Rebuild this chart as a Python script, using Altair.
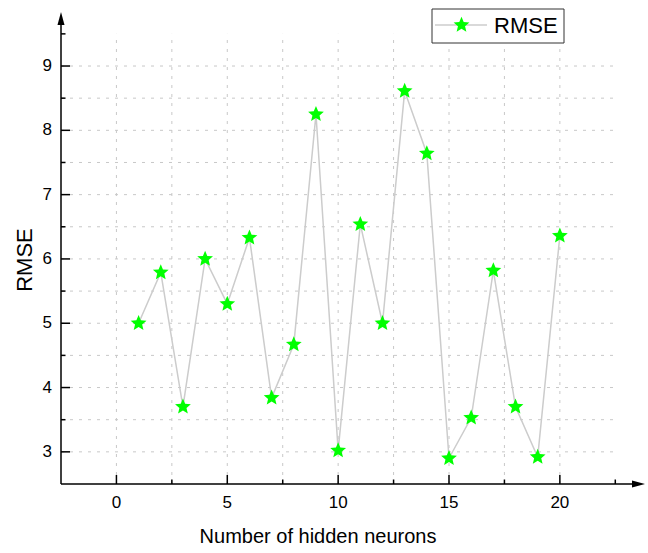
import altair as alt
import pandas as pd

# ---- data ----
neurons = list(range(1, 21))
rmse = [5.0, 5.79, 3.70, 6.00, 5.30, 6.33, 3.84, 4.67, 8.25, 3.02,
        6.54, 5.00, 8.61, 7.64, 2.90, 3.53, 5.82, 3.70, 2.92, 6.36]
x_major = [0, 5, 10, 15, 20]
x_minor = [2.5, 7.5, 12.5, 17.5, 22.5]
y_major = [3, 4, 5, 6, 7, 8, 9]
y_minor = [3.5, 4.5, 5.5, 6.5, 7.5, 8.5, 9.5]
h_grid = [3, 3.5, 4, 4.5, 5, 5.5, 6, 6.5, 7, 7.5, 8, 8.5, 9]
v_grid = [0, 2.5, 5, 7.5, 10, 12.5, 15, 17.5, 20]
x_title = "Number of hidden neurons"
y_title = "RMSE"
series_name = "RMSE"

F = "Liberation Sans"
W, H = 584, 472
X_DOM = [-2.5, 23.84]
Y_DOM = [2.5, 9.84]

STAR = ("M0,-1L0.2645,-0.3641L0.9511,-0.309L0.428,0.1391L0.5878,0.809L0,0.45"
        "L-0.5878,0.809L-0.428,0.1391L-0.9511,-0.309L-0.2645,-0.3641Z")
STAR_SIZE = 275

xs = alt.Scale(domain=X_DOM, nice=False, zero=False)
ys = alt.Scale(domain=Y_DOM, nice=False, zero=False)

def X(f):
    return alt.X(f, scale=xs, axis=None)

def Y(f):
    return alt.Y(f, scale=ys, axis=None)

df = pd.DataFrame({"n": neurons, "rmse": rmse})
hg = pd.DataFrame({"gy": h_grid, "x0": X_DOM[0], "x1": 22.5})
vg = pd.DataFrame({"gx": v_grid, "y0": Y_DOM[0], "y1": 9.5})
one = pd.DataFrame({"a": [0]})

grid_h = alt.Chart(hg).mark_rule(color="#c8c8c8", strokeWidth=1, strokeDash=[3, 6]).encode(
    x=X("x0:Q"), x2="x1:Q", y=Y("gy:Q"))
grid_v = alt.Chart(vg).mark_rule(color="#c8c8c8", strokeWidth=1, strokeDash=[3, 6]).encode(
    x=X("gx:Q"), y=Y("y0:Q"), y2="y1:Q")

line = alt.Chart(df).mark_line(color="#cccccc", strokeWidth=1.5).encode(
    x=X("n:Q"), y=Y("rmse:Q"))
stars = alt.Chart(df).mark_point(shape=STAR, filled=True, color="#00ff00",
                                 opacity=1, size=STAR_SIZE).encode(
    x=X("n:Q"), y=Y("rmse:Q"))

def xticks(vals, length):
    return alt.Chart(pd.DataFrame({"t": vals})).mark_rule(color="black", strokeWidth=1.5).encode(
        x=X("t:Q"), y=alt.value(H), y2=alt.value(H - length))

def yticks(vals, length):
    return alt.Chart(pd.DataFrame({"t": vals})).mark_rule(color="black", strokeWidth=1.5).encode(
        y=Y("t:Q"), x=alt.value(0), x2=alt.value(length))

x_labels = alt.Chart(pd.DataFrame({"t": x_major})).mark_text(
    font=F, fontSize=17, color="black", align="center", baseline="middle").encode(
    x=X("t:Q"), y=alt.value(H + 19), text=alt.Text("t:Q", format="d"))
y_labels = alt.Chart(pd.DataFrame({"t": y_major})).mark_text(
    font=F, fontSize=17, color="black", align="right", baseline="middle").encode(
    y=Y("t:Q"), x=alt.value(-9), text=alt.Text("t:Q", format="d"))

x_title_mark = alt.Chart(one).mark_text(text=x_title, font=F, fontSize=20, color="black",
                                        align="center", baseline="middle").encode(
    x=alt.value(257), y=alt.value(H + 53))
y_title_mark = alt.Chart(one).mark_text(text=y_title, font=F, fontSize=22, color="black",
                                        align="center", baseline="middle", angle=270).encode(
    x=alt.value(-36), y=alt.value(248))

x_domain = alt.Chart(one).mark_rule(color="black", strokeWidth=1.5).encode(
    x=alt.value(0), x2=alt.value(W - 8), y=alt.value(H))
y_domain = alt.Chart(one).mark_rule(color="black", strokeWidth=1.5).encode(
    x=alt.value(0), y=alt.value(8), y2=alt.value(H))

arrow_up = alt.Chart(one).mark_point(shape="M0,-1L0.54,1L-0.54,1Z", filled=True, color="black",
                                     opacity=1, size=169).encode(x=alt.value(0), y=alt.value(6.5))
arrow_right = alt.Chart(one).mark_point(shape="M1,0L-1,0.54L-1,-0.54Z", filled=True, color="black",
                                        opacity=1, size=169).encode(x=alt.value(W - 6.5), y=alt.value(H))

# legend (drawn)
leg_box = alt.Chart(one).mark_rect(fill="white", stroke="#333333", strokeWidth=1).encode(
    x=alt.value(371), x2=alt.value(503), y=alt.value(-3), y2=alt.value(31))
leg_line = alt.Chart(one).mark_rule(color="#cccccc", strokeWidth=1.5).encode(
    x=alt.value(374), x2=alt.value(426), y=alt.value(13))
leg_star = alt.Chart(one).mark_point(shape=STAR, filled=True, color="#00ff00",
                                     opacity=1, size=STAR_SIZE).encode(
    x=alt.value(400.5), y=alt.value(13))
leg_text = alt.Chart(one).mark_text(text=series_name, font=F, fontSize=22, align="left",
                                    baseline="middle", color="black").encode(
    x=alt.value(433), y=alt.value(14))

chart = alt.layer(
    grid_h, grid_v, line, stars,
    x_domain, y_domain,
    xticks(x_major, 9), xticks(x_minor, 4.5), yticks(y_major, 9), yticks(y_minor, 4.5),
    x_labels, y_labels, x_title_mark, y_title_mark,
    arrow_up, arrow_right, leg_box, leg_line, leg_star, leg_text
).properties(
    width=W, height=H, background="white",
    autosize=alt.AutoSizeParams(type="none"),
    padding={"left": 61, "top": 12, "right": 3, "bottom": 69},
).configure_view(stroke=None)

chart.save("out.html", embed_options={"renderer": "svg", "actions": False})
